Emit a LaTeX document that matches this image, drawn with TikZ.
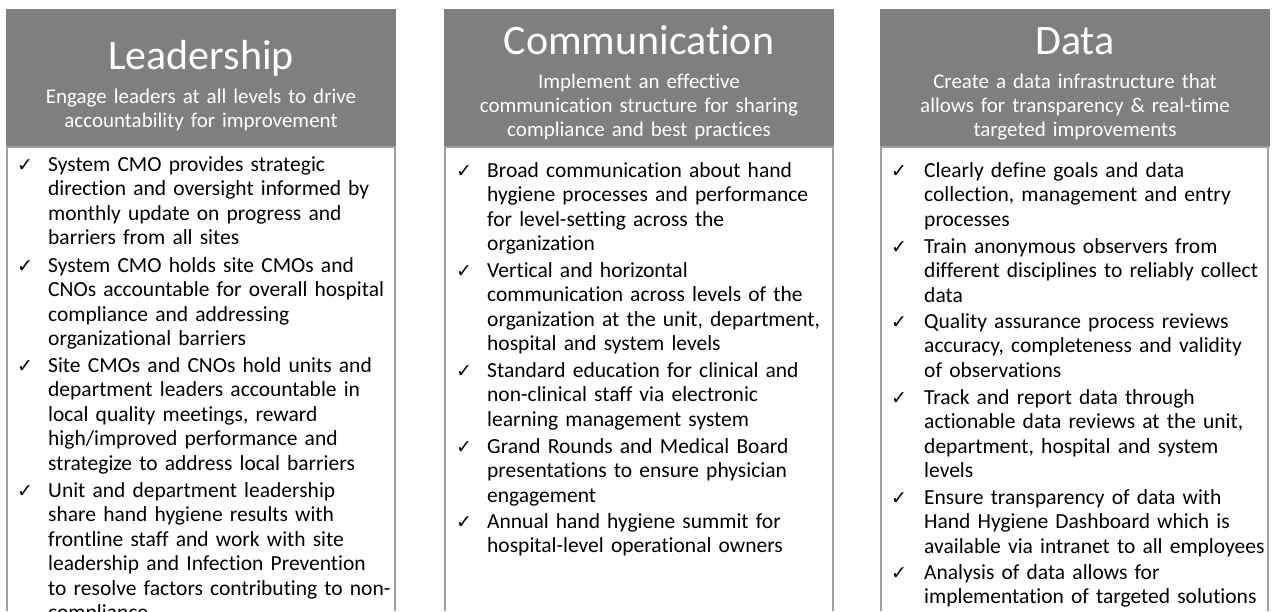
\documentclass[tikz,border=0pt]{standalone}
\usepackage{fontspec}
\setmainfont{Carlito}[Ligatures={NoCommon}]
\newfontfamily\symf{DejaVu Sans}
\definecolor{hdrgray}{RGB}{127,127,127}
\definecolor{boxline}{RGB}{160,160,160}
\begin{document}
\begin{tikzpicture}[x=1pt,y=-1pt,
  hdr/.style={fill=hdrgray, draw=none, inner sep=0, minimum width=390pt, minimum height=138pt, anchor=north west},
  ttl/.style={text=white, font=\fontsize{42}{46}\selectfont, anchor=base, inner sep=0},
  sub/.style={text=white, font=\fontsize{21}{24}\selectfont, text width=384pt, align=center, anchor=base, inner sep=0},
  chk/.style={font=\symf\fontsize{19}{22}\selectfont, anchor=base west, inner sep=0},
  item/.style={font=\fontsize{21.5}{24.5}\selectfont, anchor=base west, inner sep=0, text width=380pt, align=left},
  body/.style={draw=boxline, line width=1.6pt}]
\useasboundingbox (0,0) rectangle (1273,611);

% ---------- Leadership ----------
\node[hdr] (h1) at (6,9) {};
\node[ttl] (t1) at (201,69) {Leadership};
\node[sub] (s1) at (201,103) {Engage leaders at all levels to drive\\accountability for improvement};
\coordinate (b1a) at (7,611);
\coordinate (b1b) at (7,147);
\coordinate (b1c) at (395,147);
\coordinate (b1d) at (395,611);
\draw[body] (b1a) -- (b1b) -- (b1c) -- (b1d);
\node[chk] (c11) at (17,171) {✓};
\node[item] (i11) at (48,171) {System CMO provides strategic\\direction and oversight informed by\\monthly update on progress and\\barriers from all sites};
\node[chk] (c12) at (17,272) {✓};
\node[item] (i12) at (48,272) {System CMO holds site CMOs and\\CNOs accountable for overall hospital\\compliance and addressing\\organizational barriers};
\node[chk] (c13) at (17,372) {✓};
\node[item] (i13) at (48,372) {Site CMOs and CNOs hold units and\\department leaders accountable in\\local quality meetings, reward\\high/improved performance and\\strategize to address local barriers};
\node[chk] (c14) at (17,497) {✓};
\node[item] (i14) at (48,497) {Unit and department leadership\\share hand hygiene results with\\frontline staff and work with site\\leadership and Infection Prevention\\to resolve factors contributing to non-\\compliance};

% ---------- Communication ----------
\node[hdr] (h2) at (444,9) {};
\node[ttl] (t2) at (639,54) {Communication};
\node[sub] (s2) at (639,88) {Implement an effective\\communication structure for sharing\\compliance and best practices};
\coordinate (b2a) at (445,611);
\coordinate (b2b) at (445,147);
\coordinate (b2c) at (833,147);
\coordinate (b2d) at (833,611);
\draw[body] (b2a) -- (b2b) -- (b2c) -- (b2d);
\node[chk] (c21) at (456,177) {✓};
\node[item] (i21) at (487,177) {Broad communication about hand\\hygiene processes and performance\\for level-setting across the\\organization};
\node[chk] (c22) at (456,277) {✓};
\node[item] (i22) at (487,277) {Vertical and horizontal\\communication across levels of the\\organization at the unit, department,\\hospital and system levels};
\node[chk] (c23) at (456,377) {✓};
\node[item] (i23) at (487,377) {Standard education for clinical and\\non-clinical staff via electronic\\learning management system};
\node[chk] (c24) at (456,453) {✓};
\node[item] (i24) at (487,453) {Grand Rounds and Medical Board\\presentations to ensure physician\\engagement};
\node[chk] (c25) at (456,528) {✓};
\node[item] (i25) at (487,528) {Annual hand hygiene summit for\\hospital-level operational owners};

% ---------- Data ----------
\node[hdr] (h3) at (880,9) {};
\node[ttl] (t3) at (1075,54) {Data};
\node[sub] (s3) at (1075,88) {Create a data infrastructure that\\allows for transparency \& real-time\\targeted improvements};
\coordinate (b3a) at (881,611);
\coordinate (b3b) at (881,147);
\coordinate (b3c) at (1268,147);
\coordinate (b3d) at (1268,611);
\draw[body] (b3a) -- (b3b) -- (b3c) -- (b3d);
\node[chk] (c31) at (891,177) {✓};
\node[item] (i31) at (924,177) {Clearly define goals and data\\collection, management and entry\\processes};
\node[chk] (c32) at (891,253) {✓};
\node[item] (i32) at (924,253) {Train anonymous observers from\\different disciplines to reliably collect\\data};
\node[chk] (c33) at (891,328) {✓};
\node[item] (i33) at (924,328) {Quality assurance process reviews\\accuracy, completeness and validity\\of observations};
\node[chk] (c34) at (891,404) {✓};
\node[item] (i34) at (924,404) {Track and report data through\\actionable data reviews at the unit,\\department, hospital and system\\levels};
\node[chk] (c35) at (891,504) {✓};
\node[item] (i35) at (924,504) {Ensure transparency of data with\\Hand Hygiene Dashboard which is\\available via intranet to all employees};
\node[chk] (c36) at (891,579) {✓};
\node[item] (i36) at (924,579) {Analysis of data allows for\\implementation of targeted solutions};
\end{tikzpicture}
\end{document}
